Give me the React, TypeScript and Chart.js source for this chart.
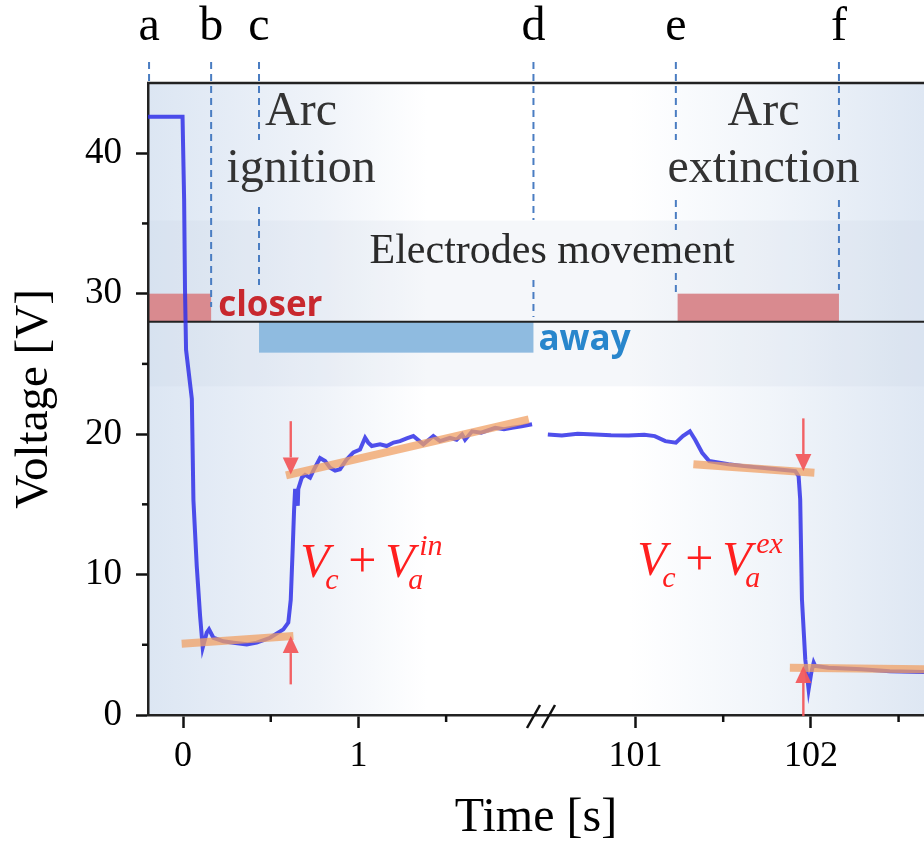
import React, { useEffect, useRef } from 'react';
import { Chart, registerables } from 'chart.js';

Chart.register(...registerables);

// ---------------- data ----------------
// The time axis is broken: the right-hand segment (≈100.5 s … 102.65 s) is shifted
// left by BREAK_SHIFT seconds so that both segments share one linear axis.
const BREAK_SHIFT = 98.42;
const BREAK_AT = 2.041; // axis position of the "//" mark

const ignitionTime = [
  -0.2, -0.003, 0.0, 0.006, 0.011, 0.017, 0.05, 0.059, 0.078, 0.097, 0.112, 0.135, 0.148,
  0.173, 0.23, 0.287, 0.363, 0.42, 0.496, 0.572, 0.6, 0.614, 0.625, 0.633, 0.639, 0.648,
  0.654, 0.657, 0.677, 0.696, 0.724, 0.743, 0.781, 0.81, 0.838, 0.867, 0.895, 0.933, 0.971,
  1.009, 1.038, 1.056, 1.076, 1.123, 1.161, 1.2, 1.237, 1.275, 1.313, 1.37, 1.427, 1.465,
  1.522, 1.56, 1.591, 1.608, 1.648, 1.7, 1.78, 1.83, 1.876, 1.93, 1.99,
];
const ignitionVoltage = [
  42.6, 42.6, 40.6, 36.7, 30.3, 26.0, 22.5, 15.3, 10.6, 7.05, 4.8, 5.86, 6.1,
  5.5, 5.25, 5.15, 5.03, 5.15, 5.5, 6.1, 6.58, 8.2, 11.8, 14.6, 16.1, 15.35,
  14.9, 16.1, 16.9, 17.1, 16.9, 17.4, 18.3, 18.08, 17.6, 17.4, 17.5, 18.2, 18.7,
  18.9, 19.74, 19.39, 19.15, 19.27, 19.15, 19.4, 19.5, 19.7, 19.86, 19.27, 19.86, 19.5,
  19.74, 19.6, 19.98, 19.6, 20.2, 20.1, 20.45, 20.35, 20.45, 20.55, 20.7,
];

const extinctionTime = [
  100.5, 100.58, 100.67, 100.77, 100.86, 100.96, 101.05, 101.11, 101.17, 101.23, 101.27,
  101.31, 101.34, 101.38, 101.42, 101.53, 101.62, 101.72, 101.82, 101.911, 101.93, 101.939,
  101.949, 101.968, 101.987, 102.002, 102.016, 102.025, 102.1, 102.29, 102.45, 102.65,
];
const extinctionVoltage = [
  19.98, 19.9, 20.02, 19.98, 19.92, 19.9, 19.95, 19.86, 19.5, 19.39, 19.86,
  20.2, 19.6, 18.67, 18.08, 17.85, 17.72, 17.6, 17.48, 17.37, 17.0, 15.35,
  8.24, 3.96, 1.83, 3.0, 3.73, 3.49, 3.37, 3.25, 3.12, 3.06,
];

// linear fits (orange)
const fitIgnitionLowT = [-0.008, 0.629];
const fitIgnitionLowV = [5.08, 5.62];
const fitIgnitionHighT = [0.587, 1.971];
const fitIgnitionHighV = [17.06, 21.05];
const fitExtinctionHighT = [101.33, 102.02];
const fitExtinctionHighV = [17.85, 17.25];
const fitExtinctionLowT = [101.88, 102.65];
const fitExtinctionLowV = [3.37, 3.25];

const xMajorTicks = [0, 1, 101, 102];
const xMinorTicks = [0.5, 1.5, 101.5, 102.5];
const yMajorTicks = [0, 10, 20, 30, 40];
const yMinorTicks = [5, 15, 25, 35];

// phase markers
const markerLabels = ['a', 'b', 'c', 'd', 'e', 'f'];
const markerTimes = [-0.194, 0.16, 0.433, 1.998, 101.23, 102.16];

// ---------------- helpers ----------------
const axisX = (t: number) => (t > 50 ? t - BREAK_SHIFT : t);
const toPoints = (ts: number[], vs: number[]) => ts.map((t, i) => ({ x: axisX(t), y: vs[i] }));

const SERIF = '"Liberation Serif", "Times New Roman", serif';
const SANS = '"Open Sans", "Noto Sans", sans-serif';

// dashed marker segments (canvas px, vertical ranges)
const markerSegments: number[][][] = [
  [[62, 83]],
  [[62, 307]],
  [[62, 140], [207, 285]],
  [[62, 220], [280, 317]],
  [[62, 140], [200, 230], [273, 293]],
  [[62, 140], [200, 290]],
];

function drawArrow(ctx: CanvasRenderingContext2D, x: number, y0: number, y1: number) {
  const dir = y1 > y0 ? 1 : -1;
  const headLen = 17;
  const headW = 8;
  ctx.save();
  ctx.strokeStyle = 'rgba(242,88,92,0.95)';
  ctx.fillStyle = 'rgba(242,88,92,0.95)';
  ctx.lineWidth = 2.4;
  ctx.beginPath();
  ctx.moveTo(x, y0);
  ctx.lineTo(x, y1 - dir * headLen);
  ctx.stroke();
  ctx.beginPath();
  ctx.moveTo(x, y1);
  ctx.lineTo(x - headW, y1 - dir * headLen);
  ctx.lineTo(x + headW, y1 - dir * headLen);
  ctx.closePath();
  ctx.fill();
  ctx.restore();
}

function drawFormula(ctx: CanvasRenderingContext2D, x: number, base: number, sup: string) {
  ctx.save();
  ctx.fillStyle = '#ff1f1f';
  ctx.textAlign = 'left';
  ctx.textBaseline = 'alphabetic';
  const big = `italic 48px ${SERIF}`;
  const small = `italic 30px ${SERIF}`;
  ctx.font = big;
  ctx.fillText('V', x, base);
  ctx.font = small;
  ctx.fillText('c', x + 25, base + 12);
  ctx.font = `50px ${SERIF}`;
  ctx.fillText('+', x + 48, base);
  ctx.font = big;
  ctx.fillText('V', x + 85, base);
  ctx.font = small;
  ctx.fillText('a', x + 108, base + 12);
  ctx.fillText(sup, x + 119, base - 22);
  ctx.restore();
}

const decorPlugin = {
  id: 'decor',
  beforeDraw(chart: any) {
    const { ctx, chartArea: ca, scales } = chart;
    const xs = scales.x;
    const ys = scales.y;
    ctx.save();
    // plot background gradient
    const g = ctx.createLinearGradient(ca.left, 0, ca.right, 0);
    g.addColorStop(0, 'rgb(220,230,243)');
    g.addColorStop(0.22, 'rgb(239,243,249)');
    g.addColorStop(0.36, 'rgb(255,255,255)');
    g.addColorStop(0.62, 'rgb(255,255,255)');
    g.addColorStop(0.8, 'rgb(241,245,250)');
    g.addColorStop(1, 'rgb(222,231,243)');
    ctx.fillStyle = g;
    ctx.fillRect(ca.left, ca.top, ca.right - ca.left, ca.bottom - ca.top);
    // "electrodes movement" band
    const bTop = ys.getPixelForValue(35.2);
    const bBot = ys.getPixelForValue(23.4);
    ctx.fillStyle = 'rgba(190,205,225,0.16)';
    ctx.fillRect(ca.left, bTop, ca.right - ca.left, bBot - bTop);
    // movement boxes
    const y28 = ys.getPixelForValue(28);
    const y30 = ys.getPixelForValue(30);
    const y258 = ys.getPixelForValue(25.8);
    ctx.fillStyle = 'rgb(217,138,143)';
    ctx.fillRect(ca.left, y30, xs.getPixelForValue(axisX(markerTimes[1])) - ca.left, y28 - y30);
    const e0 = xs.getPixelForValue(axisX(101.24));
    const e1 = xs.getPixelForValue(axisX(102.16));
    ctx.fillRect(e0, y30, e1 - e0, y28 - y30);
    ctx.fillStyle = 'rgb(143,187,224)';
    const c0 = xs.getPixelForValue(axisX(markerTimes[2]));
    const d0 = xs.getPixelForValue(axisX(markerTimes[3]));
    ctx.fillRect(c0, y28, d0 - c0, y258 - y28);
    // separator line
    ctx.strokeStyle = '#222';
    ctx.lineWidth = 2;
    ctx.beginPath();
    ctx.moveTo(ca.left, y28);
    ctx.lineTo(ca.right, y28);
    ctx.stroke();
    ctx.restore();
  },
  afterDatasetsDraw(chart: any) {
    const { ctx, chartArea: ca, scales } = chart;
    const xs = scales.x;
    const ys = scales.y;
    ctx.save();
    // top frame line
    ctx.strokeStyle = '#222';
    ctx.lineWidth = 2.5;
    ctx.beginPath();
    ctx.moveTo(ca.left - 1, ca.top);
    ctx.lineTo(ca.right, ca.top);
    ctx.stroke();

    // minor ticks
    ctx.lineWidth = 2.5;
    ctx.strokeStyle = '#111';
    xMinorTicks.forEach((t) => {
      const px = xs.getPixelForValue(axisX(t));
      if (px > ca.right) return;
      ctx.beginPath();
      ctx.moveTo(px, ca.bottom);
      ctx.lineTo(px, ca.bottom + 7);
      ctx.stroke();
    });
    yMinorTicks.forEach((v) => {
      const py = ys.getPixelForValue(v);
      ctx.beginPath();
      ctx.moveTo(ca.left, py);
      ctx.lineTo(ca.left - 6, py);
      ctx.stroke();
    });

    // axis break "//"
    const bx = xs.getPixelForValue(BREAK_AT);
    ctx.lineWidth = 2.5;
    [-14, 1].forEach((o) => {
      ctx.beginPath();
      ctx.moveTo(bx + o, ca.bottom + 13);
      ctx.lineTo(bx + o + 13, ca.bottom - 10);
      ctx.stroke();
    });

    // dashed phase markers + letters
    ctx.strokeStyle = '#4a7dc2';
    ctx.lineWidth = 2;
    ctx.setLineDash([7, 5]);
    markerTimes.forEach((t, i) => {
      const px = xs.getPixelForValue(axisX(t));
      markerSegments[i].forEach(([a, b]) => {
        ctx.beginPath();
        ctx.moveTo(px, a);
        ctx.lineTo(px, b);
        ctx.stroke();
      });
    });
    ctx.setLineDash([]);
    ctx.fillStyle = '#000';
    ctx.font = `48px ${SERIF}`;
    ctx.textAlign = 'center';
    ctx.textBaseline = 'alphabetic';
    markerTimes.forEach((t, i) => {
      ctx.fillText(markerLabels[i], xs.getPixelForValue(axisX(t)), 40);
    });

    // phase captions
    ctx.fillStyle = '#333';
    ctx.font = `48px ${SERIF}`;
    const ign = xs.getPixelForValue(axisX(0.673));
    ctx.fillText('Arc', ign, 125);
    ctx.fillText('ignition', ign, 182);
    const ext = xs.getPixelForValue(axisX(101.73));
    ctx.fillText('Arc', ext, 125);
    ctx.fillText('extinction', ext, 182);
    ctx.fillStyle = '#2a2a2a';
    ctx.font = `42px ${SERIF}`;
    ctx.fillText('Electrodes movement', xs.getPixelForValue(2.104), 263);

    // closer / away
    ctx.textAlign = 'left';
    ctx.font = `bold 35px ${SANS}`;
    ctx.fillStyle = '#c8282e';
    ctx.fillText('closer', xs.getPixelForValue(axisX(markerTimes[1])) + 7, 316);
    ctx.fillStyle = '#2886cc';
    ctx.fillText('away', xs.getPixelForValue(axisX(markerTimes[3])) + 5, 350);

    // arrows
    const ax1 = xs.getPixelForValue(axisX(0.614));
    drawArrow(ctx, ax1, ys.getPixelForValue(20.92), ys.getPixelForValue(17.13));
    drawArrow(ctx, ax1, ys.getPixelForValue(2.18), ys.getPixelForValue(5.62));
    const ax2 = xs.getPixelForValue(axisX(101.957));
    drawArrow(ctx, ax2, ys.getPixelForValue(21.12), ys.getPixelForValue(17.37));
    drawArrow(ctx, ax2, ys.getPixelForValue(-0.07), ys.getPixelForValue(3.49));

    // formulas
    drawFormula(ctx, xs.getPixelForValue(axisX(0.668)), ys.getPixelForValue(9.84), 'in');
    drawFormula(ctx, xs.getPixelForValue(axisX(101.01)), ys.getPixelForValue(9.98), 'ex');
    ctx.restore();
  },
};

export default function App() {
  const ref = useRef<HTMLCanvasElement | null>(null);

  useEffect(() => {
    if (!ref.current) return;
    const orange = 'rgba(240,160,100,0.75)';
    const blue = 'rgba(48,48,232,0.85)';
    const chart = new Chart(ref.current, {
      type: 'line',
      data: {
        datasets: [
          { label: 'fit ignition low', data: toPoints(fitIgnitionLowT, fitIgnitionLowV), borderColor: orange, borderWidth: 8, pointRadius: 0, borderCapStyle: 'butt' },
          { label: 'fit ignition high', data: toPoints(fitIgnitionHighT, fitIgnitionHighV), borderColor: orange, borderWidth: 8, pointRadius: 0, borderCapStyle: 'butt' },
          { label: 'fit extinction high', data: toPoints(fitExtinctionHighT, fitExtinctionHighV), borderColor: orange, borderWidth: 8, pointRadius: 0, borderCapStyle: 'butt' },
          { label: 'fit extinction low', data: toPoints(fitExtinctionLowT, fitExtinctionLowV), borderColor: orange, borderWidth: 8, pointRadius: 0, borderCapStyle: 'butt' },
          { label: 'Voltage (ignition)', data: toPoints(ignitionTime, ignitionVoltage), borderColor: blue, borderWidth: 4, pointRadius: 0, tension: 0 },
          { label: 'Voltage (extinction)', data: toPoints(extinctionTime, extinctionVoltage), borderColor: blue, borderWidth: 4, pointRadius: 0, tension: 0 },
        ],
      } as any,
      options: {
        animation: false,
        responsive: false,
        devicePixelRatio: 1,
        parsing: false,
        layout: { padding: { top: 83, left: 0, right: 0, bottom: 0 } },
        plugins: { legend: { display: false }, tooltip: { enabled: false }, title: { display: false } },
        scales: {
          x: {
            type: 'linear',
            min: -0.2,
            max: 4.225,
            afterBuildTicks: (s: any) => {
              s.ticks = xMajorTicks.map((t) => ({ value: axisX(t) }));
            },
            afterFit: (s: any) => {
              s.height = 132;
            },
            ticks: {
              autoSkip: false,
              maxRotation: 0,
              padding: 7,
              color: '#000',
              font: { family: SERIF, size: 36 },
              callback: (v: any) => {
                const t = xMajorTicks.find((m) => Math.abs(axisX(m) - v) < 1e-6);
                return t === undefined ? '' : String(t);
              },
            },
            grid: { display: true, drawOnChartArea: false, drawTicks: true, tickLength: 13, tickWidth: 2.5, tickColor: '#111', color: 'rgba(0,0,0,0)' },
            border: { display: true, color: '#222', width: 2.5 },
            title: { display: true, text: 'Time [s]', color: '#000', font: { family: SERIF, size: 48 }, padding: { top: 0, bottom: 0 } },
          },
          y: {
            type: 'linear',
            min: 0,
            max: 45,
            afterBuildTicks: (s: any) => {
              s.ticks = yMajorTicks.map((v) => ({ value: v }));
            },
            afterFit: (s: any) => {
              s.width = 148;
            },
            ticks: { padding: 14, color: '#000', font: { family: SERIF, size: 37 } },
            grid: { display: true, drawOnChartArea: false, drawTicks: true, tickLength: 12, tickWidth: 2.5, tickColor: '#111', color: 'rgba(0,0,0,0)' },
            border: { display: true, color: '#222', width: 2.5 },
            title: { display: true, text: 'Voltage [V]', color: '#000', font: { family: SERIF, size: 47 }, padding: { top: 6, bottom: 0 } },
          },
        },
      } as any,
      plugins: [decorPlugin],
    });
    return () => chart.destroy();
  }, []);

  return (
    <canvas
      ref={ref}
      width={924}
      height={847}
      style={{ position: 'absolute', left: 0, top: 0, display: 'block' }}
    />
  );
}
